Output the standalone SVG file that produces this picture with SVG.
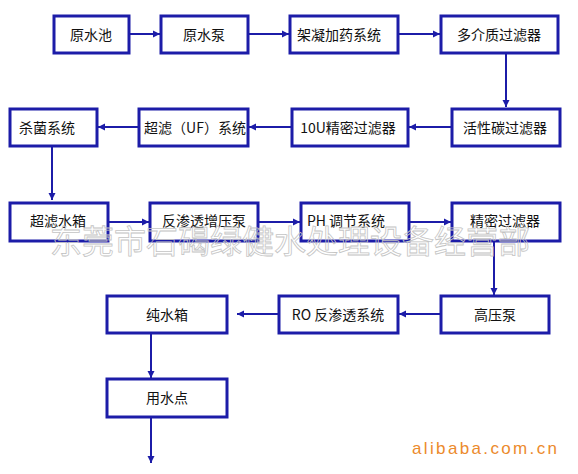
<svg xmlns="http://www.w3.org/2000/svg" width="578" height="474" viewBox="0 0 578 474">
<defs>
<marker id="ah" markerWidth="8" markerHeight="8" refX="7" refY="4" orient="auto" markerUnits="userSpaceOnUse">
<path d="M0,0.5 L7,4 L0,7.5 Z" fill="#1c1ca8"/>
</marker>
<style>
.box{fill:#fff;stroke:#1c1ca8;stroke-width:3}
.t{font-family:"Noto Sans CJK SC","Liberation Sans",sans-serif;font-size:14px;fill:#111;text-anchor:middle;dominant-baseline:central}
.c{fill:none;stroke:#1c1ca8;stroke-width:2;marker-end:url(#ah)}
.wm{font-family:"Noto Sans CJK SC",serif;font-size:32px;fill:none;stroke:#c4c4c4;stroke-width:0.8}
.ali{font-family:"Liberation Sans",Arial,sans-serif;font-size:17px;fill:#ec8a2c}
</style>
</defs>
<rect width="578" height="474" fill="#fff"/>
<g id="connectors">
<path class="c" d="M129,34 H160"/>
<path class="c" d="M248,34 H289"/>
<path class="c" d="M398,34 H440"/>
<path class="c" d="M506,54 V107"/>
<path class="c" d="M452,127 H409"/>
<path class="c" d="M292,127 H249"/>
<path class="c" d="M139,127 H98"/>
<path class="c" d="M52,147 V200"/>
<path class="c" d="M108,222 H149"/>
<path class="c" d="M258,222 H300"/>
<path class="c" d="M409,222 H451"/>
<path class="c" d="M494,241 V295"/>
<path class="c" d="M441,314 H399"/>
<path class="c" d="M279,314 H237"/>
<path class="c" d="M151,333 V378"/>
<path class="c" d="M151,417 V463"/>
</g>
<g id="n1"><rect class="box" x="54" y="16" width="75" height="37"/><text class="t" x="91" y="34">原水池</text></g>
<g id="n2"><rect class="box" x="161" y="16" width="87" height="37"/><text class="t" x="204" y="34">原水泵</text></g>
<g id="n3"><rect class="box" x="290" y="16" width="108" height="37"/><text class="t" x="339" y="34">架凝加药系统</text></g>
<g id="n4"><rect class="box" x="441" y="16" width="117" height="37"/><text class="t" x="499" y="34">多介质过滤器</text></g>
<g id="n5"><rect class="box" x="452" y="109" width="108" height="37"/><text class="t" x="505" y="127">活性碳过滤器</text></g>
<g id="n6"><rect class="box" x="292" y="109" width="116" height="37"/><text class="t" x="348" y="127">10U精密过滤器</text></g>
<g id="n7"><rect class="box" x="139" y="109" width="109" height="37"/><text class="t" x="195" y="127">超滤（UF）系统</text></g>
<g id="n8"><rect class="box" x="10" y="109" width="87" height="37"/><text class="t" x="47" y="127">杀菌系统</text></g>
<g id="n9"><rect class="box" x="10" y="203" width="98" height="38"/><text class="t" x="58" y="220">超滤水箱</text></g>
<g id="n10"><rect class="box" x="150" y="203" width="108" height="38"/><text class="t" x="204" y="220">反渗透增压泵</text></g>
<g id="n11"><rect class="box" x="301" y="203" width="108" height="38"/><text class="t" x="346" y="220">PH 调节系统</text></g>
<g id="n12"><rect class="box" x="452" y="203" width="108" height="38"/><text class="t" x="505" y="220">精密过滤器</text></g>
<g id="n13"><rect class="box" x="441" y="296" width="108" height="37"/><text class="t" x="495" y="314">高压泵</text></g>
<g id="n14"><rect class="box" x="279" y="296" width="119" height="37"/><text class="t" x="338" y="314">RO 反渗透系统</text></g>
<g id="n15"><rect class="box" x="107" y="296" width="120" height="37"/><text class="t" x="167" y="314">纯水箱</text></g>
<g id="n16"><rect class="box" x="107" y="379" width="120" height="38"/><text class="t" x="167" y="397">用水点</text></g>
<text class="wm" x="50" y="253" textLength="480" lengthAdjust="spacing">东莞市石碣绿健水处理设备经营部</text>
<text class="ali" x="412" y="454" textLength="145" lengthAdjust="spacing">alibaba.com.cn</text>
</svg>
